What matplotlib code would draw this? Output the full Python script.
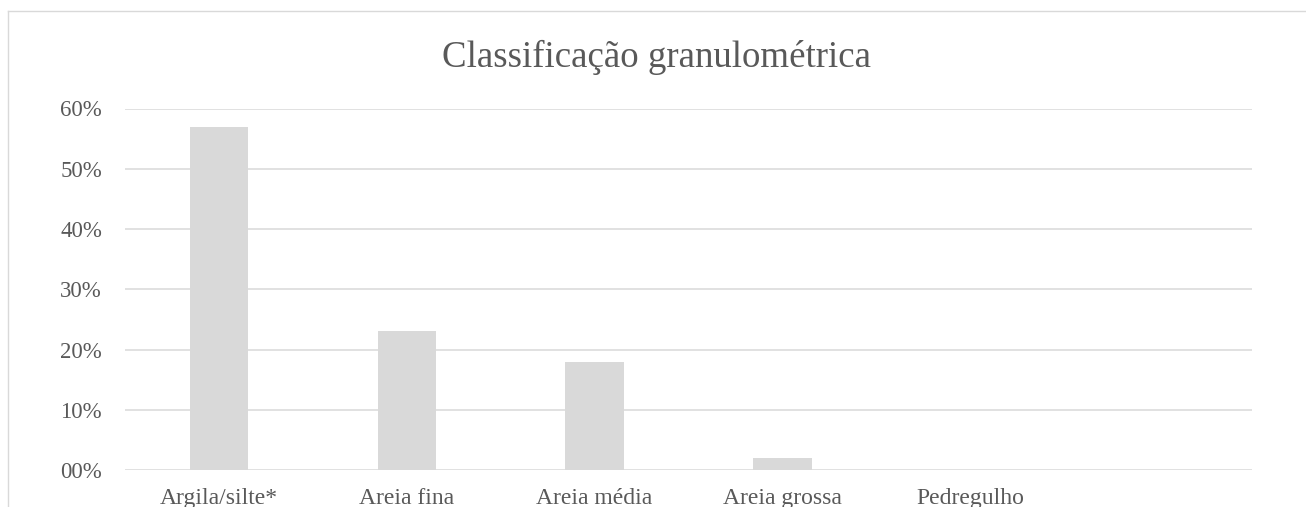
import matplotlib
matplotlib.use("Agg")
import matplotlib.pyplot as plt
from matplotlib.lines import Line2D
from matplotlib.ticker import FuncFormatter

# particle-size fractions of the sample
categories = ["Argila/silte*", "Areia fina", "Areia média", "Areia grossa", "Pedregulho", ""]
fractions = [0.57, 0.23, 0.18, 0.02, 0.0, 0.0]
y_ticks = [0.0, 0.1, 0.2, 0.3, 0.4, 0.5, 0.6]

W, H = 1306, 507
TEXT = "#595959"
GRID = "#d9d9d9"
BAR = "#d9d9d9"

plt.rcParams["font.family"] = ["Liberation Serif", "DejaVu Serif"]

fig = plt.figure(figsize=(W / 100, H / 100), dpi=100)
ax = fig.add_axes([125 / W, 1 - 470 / H, (1252 - 125) / W, (470 - 108.5) / H])

x = list(range(len(categories)))
ax.bar(x, fractions, width=0.31, color=BAR, zorder=2)

ax.set_xlim(-0.5, len(categories) - 0.5)
ax.set_ylim(0, 0.6)
ax.set_yticks(y_ticks)
ax.yaxis.set_major_formatter(FuncFormatter(lambda v, _: f"{v * 100:02.0f}%"))
ax.set_xticks(x)
ax.set_xticklabels(categories)

ax.grid(axis="y", color=GRID, linewidth=1.1, zorder=0)
ax.tick_params(axis="both", length=0, labelcolor=TEXT)
ax.tick_params(axis="y", pad=16.5, labelsize=16.5)
ax.tick_params(axis="x", pad=13, labelsize=17)
for side in ax.spines.values():
    side.set_visible(False)

fig.text(657 / W, 1 - 66.7 / H, "Classificação granulométrica",
         ha="center", va="baseline", fontsize=26.6, color=TEXT)

# outer chart frame (left and top edges)
fig.add_artist(Line2D([8 / W, 8 / W], [0, 1 - 10.7 / H], transform=fig.transFigure,
                      color=GRID, linewidth=1.0))
fig.add_artist(Line2D([8 / W, 1], [1 - 10.7 / H, 1 - 10.7 / H], transform=fig.transFigure,
                      color=GRID, linewidth=1.0))

fig.savefig("out.png", dpi=100)
